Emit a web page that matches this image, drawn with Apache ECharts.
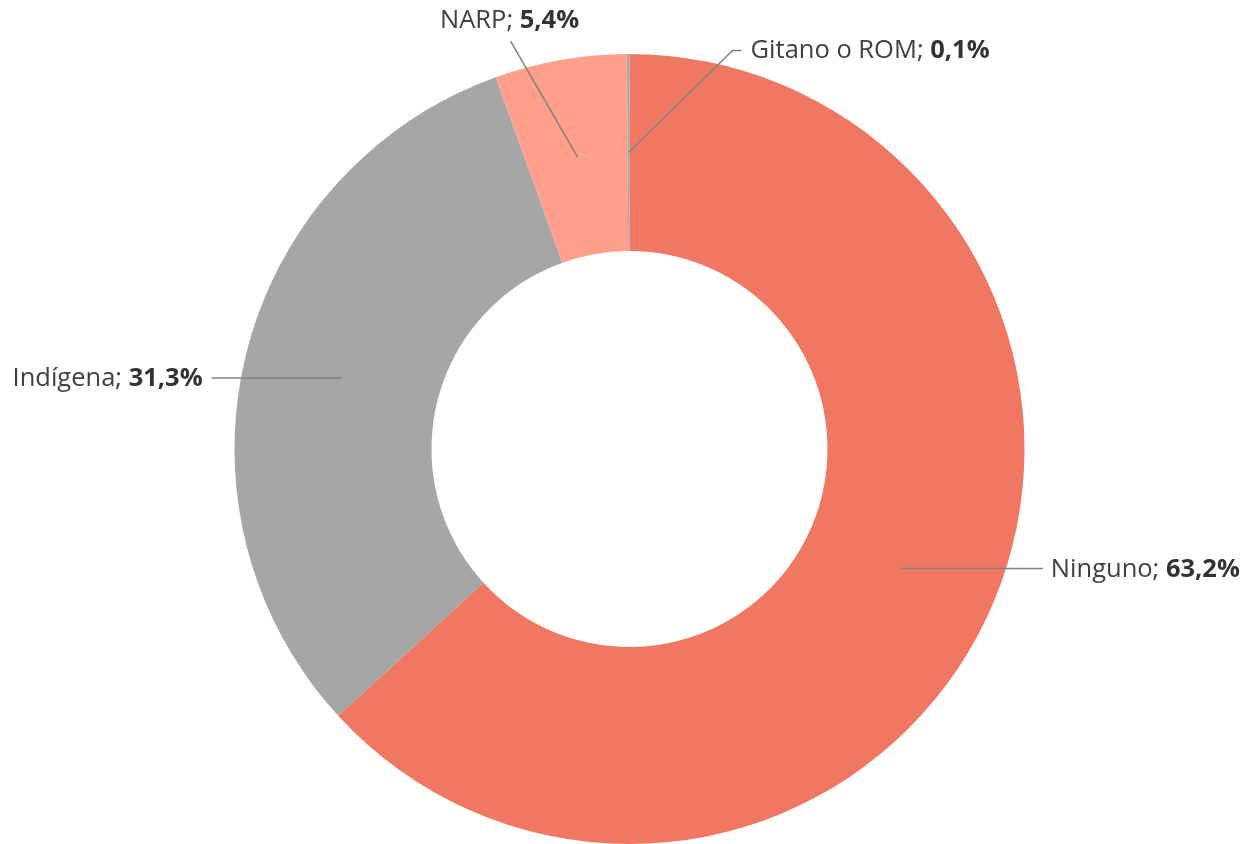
<!DOCTYPE html>
<html>
<head>
<meta charset="utf-8">
<script src="https://cdn.jsdelivr.net/npm/echarts@6/dist/echarts.min.js"></script>
<style>
  html, body { margin: 0; padding: 0; background: #fff; }
  #pieChart { width: 1248px; height: 844px; }
</style>
</head>
<body>
<div id="pieChart"></div>
<script>
// 数据
const categories = ['Ninguno', 'Indígena', 'NARP', 'Gitano o ROM']
const shares = [63.2, 31.3, 5.4, 0.1]
const sliceColors = ['#F07862', '#A6A6A6', '#FF9F8C', '#A6A6A6']

// 标签相对锚点(环中线)的偏移: 折线拐点、终点、文字位置
const labelPlacement = [
  { bend: [0, 0], end: [142, 0], label: [150, 1], align: 'left' },
  { bend: [0, 0], end: [-130, 0], label: [-139, 1], align: 'right' },
  { bend: [-67, -116], end: [-67, -116], label: [-68, -136], align: 'center' },
  { bend: [104, -102], end: [113, -102], label: [122, -102], align: 'left' }
]

const pieData = categories.map((name, i) => ({ name, value: shares[i] }))
const fmtPct = v => v.toFixed(1).replace('.', ',') + '%'

const initChart = () => {
  const chart = echarts.init(document.getElementById('pieChart'))
  const center = [629.5, 449]
  const option = {
    animation: false,
    color: sliceColors,
    series: [
      {
        // 环形图本体
        type: 'pie',
        radius: [198, 395],
        center: center,
        startAngle: 90,
        clockwise: true,
        silent: true,
        label: { show: false },
        labelLine: { show: false },
        data: pieData
      },
      {
        // 透明内饼, 只用来放标签和引导线(引导线从环中线出发)
        type: 'pie',
        z: 5,
        radius: [0, 296.5],
        center: center,
        startAngle: 90,
        clockwise: true,
        silent: true,
        avoidLabelOverlap: false,
        emphasis: { disabled: true },
        itemStyle: { color: 'rgba(0,0,0,0)' },
        label: {
          show: true,
          position: 'outside',
          formatter: p => '{n|' + p.name + '; }{b|' + fmtPct(p.value) + '}',
          rich: {
            n: { fontFamily: 'Open Sans', fontSize: 25.5, color: '#404040' },
            b: { fontFamily: 'Open Sans', fontSize: 25.5, fontWeight: 'bold', color: '#333333' }
          }
        },
        labelLine: {
          show: true,
          length: 0,
          length2: 10,
          lineStyle: { color: '#808080', width: 1.5, opacity: 1 }
        },
        labelLayout: params => {
          const cfg = labelPlacement[params.dataIndex]
          const a = params.labelLinePoints[0]
          return {
            x: a[0] + cfg.label[0],
            y: a[1] + cfg.label[1],
            align: cfg.align,
            verticalAlign: 'middle',
            labelLinePoints: [
              [a[0], a[1]],
              [a[0] + cfg.bend[0], a[1] + cfg.bend[1]],
              [a[0] + cfg.end[0], a[1] + cfg.end[1]]
            ]
          }
        },
        data: pieData
      }
    ]
  }
  chart.setOption(option)
}

initChart()
</script>
</body>
</html>
